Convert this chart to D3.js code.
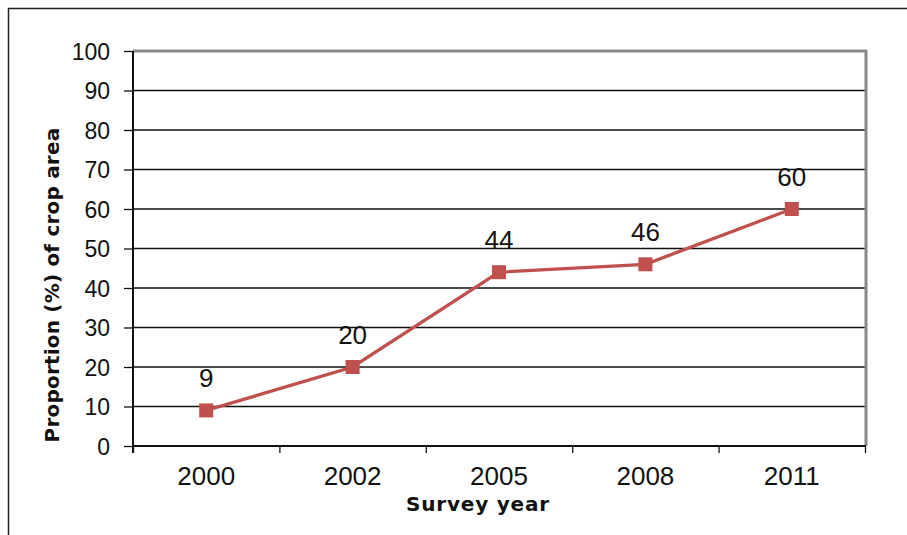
<!DOCTYPE html>
<html>
<head>
<meta charset="utf-8">
<script src="https://cdn.jsdelivr.net/npm/d3@7"></script>
<style>
  body { margin: 0; background: #fff; }
  .num { font-family: 'Liberation Sans', Arial, sans-serif; fill: #111; }
  .title { font-family: 'DejaVu Sans', Verdana, sans-serif; font-weight: bold; fill: #111; }
</style>
</head>
<body>
<script>
// data
const years = ['2000', '2002', '2005', '2008', '2011'];
const shares = [9, 20, 44, 46, 60];
const yTicks = [0, 10, 20, 30, 40, 50, 60, 70, 80, 90, 100];

// constants
const width = 907;
const height = 535;
const plot = { left: 133, right: 865, top: 51, bottom: 446 };
const red = '#c0504d';

const svg = d3.select('body')
  .append('svg')
  .attr('width', width)
  .attr('height', height);

// outer frame (runs off the right and bottom edges)
svg.append('path')
  .attr('d', `M8.5,${height + 5}V8.5H${width + 5}`)
  .attr('fill', 'none')
  .attr('stroke', '#222')
  .attr('stroke-width', 1.5);

const x = d3.scaleBand()
  .domain(years)
  .range([plot.left, plot.right]);
const xEdges = d3.scaleLinear()
  .domain([0, years.length])
  .range([plot.left, plot.right]);
const y = d3.scaleLinear()
  .domain([0, 100])
  .range([plot.bottom, plot.top]);

// gridlines
svg.append('g')
  .selectAll('line')
  .data(yTicks.filter((d) => d > 0 && d < 100))
  .join('line')
  .attr('x1', plot.left)
  .attr('x2', plot.right)
  .attr('y1', (d) => y(d))
  .attr('y2', (d) => y(d))
  .attr('stroke', '#111')
  .attr('stroke-width', 1.3);

// plot border (top and right in grey)
svg.append('path')
  .attr('d', `M${plot.left},${plot.top}H${plot.right + 1}V${plot.bottom}`)
  .attr('fill', 'none')
  .attr('stroke', '#888')
  .attr('stroke-width', 3);

// y axis
const gLeft = svg.append('g')
  .attr('transform', `translate(${plot.left},0)`)
  .call(d3.axisLeft(y).tickValues(yTicks).tickSize(9).tickPadding(14));
gLeft.select('.domain').attr('stroke', '#111').attr('stroke-width', 2)
  .attr('d', `M0,${plot.top}V${plot.bottom + 7}`);
gLeft.selectAll('.tick line').attr('stroke', '#111').attr('stroke-width', 1.3);
gLeft.selectAll('.tick text')
  .attr('class', 'num')
  .attr('font-size', 23)
  .attr('dy', '0.36em');

// x axis: ticks at category edges, labels at band centres
const gBottom = svg.append('g')
  .attr('transform', `translate(0,${plot.bottom})`)
  .call(d3.axisBottom(xEdges).tickValues(d3.range(years.length + 1)).tickSize(7).tickFormat(''));
gBottom.select('.domain').attr('stroke', '#111').attr('stroke-width', 2)
  .attr('d', `M${plot.left},0H${plot.right + 1}`);
gBottom.selectAll('.tick line').attr('stroke', '#111').attr('stroke-width', 1.3);

svg.append('g')
  .selectAll('text')
  .data(years)
  .join('text')
  .attr('class', 'num')
  .attr('x', (d) => x(d) + x.bandwidth() / 2)
  .attr('y', 485)
  .attr('text-anchor', 'middle')
  .attr('font-size', 26)
  .text((d) => d);

// series line
const pts = years.map((d, i) => ({ year: d, value: shares[i] }));
const cx = (d) => x(d.year) + x.bandwidth() / 2;
svg.append('path')
  .datum(pts)
  .attr('d', d3.line().x(cx).y((d) => y(d.value)))
  .attr('fill', 'none')
  .attr('stroke', red)
  .attr('stroke-width', 3.3);

svg.append('g')
  .selectAll('rect')
  .data(pts)
  .join('rect')
  .attr('x', (d) => cx(d) - 7)
  .attr('y', (d) => y(d.value) - 7)
  .attr('width', 14)
  .attr('height', 14)
  .attr('fill', red);

// data labels
svg.append('g')
  .selectAll('text')
  .data(pts)
  .join('text')
  .attr('class', 'num')
  .attr('x', cx)
  .attr('y', (d) => y(d.value) - 23)
  .attr('text-anchor', 'middle')
  .attr('font-size', 26)
  .text((d) => d.value);

// axis titles
svg.append('text')
  .attr('class', 'title')
  .attr('x', 478)
  .attr('y', 511)
  .attr('text-anchor', 'middle')
  .attr('font-size', 20)
  .attr('letter-spacing', 0.8)
  .text('Survey year');

svg.append('text')
  .attr('class', 'title')
  .attr('transform', 'translate(59,285) rotate(-90)')
  .attr('text-anchor', 'middle')
  .attr('font-size', 20)
  .attr('letter-spacing', 0.2)
  .text('Proportion (%) of crop area');
</script>
</body>
</html>
